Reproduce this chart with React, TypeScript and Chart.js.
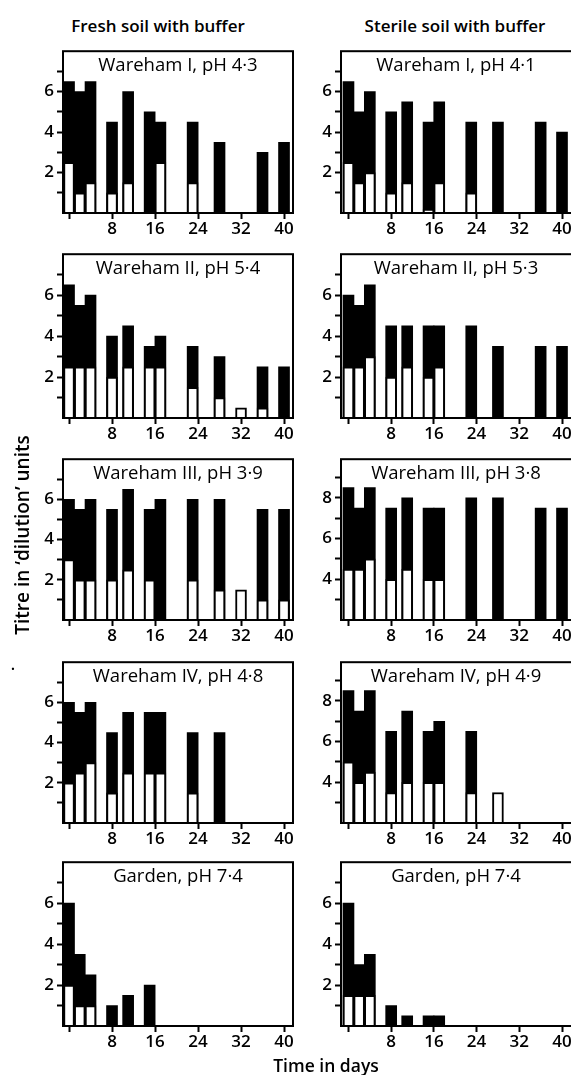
import React, { useEffect, useRef } from 'react';
import { Chart, registerables } from 'chart.js';

Chart.register(...registerables);

// ---------- data ----------
const days = [0, 2, 4, 8, 11, 15, 17, 23, 28, 32, 36, 40];
const xTickValues = [0, 8, 16, 24, 32, 40];

const columnTitles = ['Fresh soil with buffer', 'Sterile soil with buffer'];
const yAxisTitle = 'Titre in ‘dilution’ units';
const xAxisTitle = 'Time in days';

const panelTitles = [
  ['Wareham I, pH 4·3', 'Wareham I, pH 4·1'],
  ['Wareham II, pH 5·4', 'Wareham II, pH 5·3'],
  ['Wareham III, pH 3·9', 'Wareham III, pH 3·8'],
  ['Wareham IV, pH 4·8', 'Wareham IV, pH 4·9'],
  ['Garden, pH 7·4', 'Garden, pH 7·4'],
];

// total titre (black bars) and the white part, per panel
const freshWarehamITotal = [6.5, 6, 6.5, 4.5, 6, 5, 4.5, 4.5, 3.5, null, 3, 3.5];
const freshWarehamIWhite = [2.5, 1, 1.5, 1, 1.5, null, 2.5, 1.5, null, null, null, null];
const sterileWarehamITotal = [6.5, 5, 6, 5, 5.5, 4.5, 5.5, 4.5, 4.5, null, 4.5, 4];
const sterileWarehamIWhite = [2.5, 1.5, 2, 1, 1.5, 0.2, 1.5, 1, null, null, null, null];

const freshWarehamIITotal = [6.5, 5.5, 6, 4, 4.5, 3.5, 4, 3.5, 3, null, 2.5, 2.5];
const freshWarehamIIWhite = [2.5, 2.5, 2.5, 2, 2.5, 2.5, 2.5, 1.5, 1, 0.5, 0.5, null];
const sterileWarehamIITotal = [6, 5.5, 6.5, 4.5, 4.5, 4.5, 4.5, 4.5, 3.5, null, 3.5, 3.5];
const sterileWarehamIIWhite = [2.5, 2.5, 3, 2, 2.5, 2, 2.5, null, null, null, null, null];

const freshWarehamIIITotal = [6, 5.5, 6, 5.5, 6.5, 5.5, 6, 6, 6, null, 5.5, 5.5];
const freshWarehamIIIWhite = [3, 2, 2, 2, 2.5, 2, null, 2, 1.5, 1.5, 1, 1];
const sterileWarehamIIITotal = [8.5, 7.5, 8.5, 7.5, 8, 7.5, 7.5, 8, 8, null, 7.5, 7.5];
const sterileWarehamIIIWhite = [4.5, 4.5, 5, 4, 4.5, 4, 4, null, null, null, null, null];

const freshWarehamIVTotal = [6, 5.5, 6, 4.5, 5.5, 5.5, 5.5, 4.5, 4.5, null, null, null];
const freshWarehamIVWhite = [2, 2.5, 3, 1.5, 2.5, 2.5, 2.5, 1.5, null, null, null, null];
const sterileWarehamIVTotal = [8.5, 7.5, 8.5, 6.5, 7.5, 6.5, 7, 6.5, null, null, null, null];
const sterileWarehamIVWhite = [5, 4, 4.5, 3.5, 4, 4, 4, 3.5, 3.5, null, null, null];

const freshGardenTotal = [6, 3.5, 2.5, 1, 1.5, 2, null, null, null, null, null, null];
const freshGardenWhite = [2, 1, 1, null, null, null, null, null, null, null, null, null];
const sterileGardenTotal = [6, 3, 3.5, 1, 0.5, 0.5, 0.5, null, null, null, null, null];
const sterileGardenWhite = [1.5, 1.5, 1.5, null, null, null, null, null, null, null, null, null];

const yRangeLow = [0, 8];
const yRangeHigh = [2, 9.9];

const panelSeries = [
  [[freshWarehamITotal, freshWarehamIWhite, yRangeLow], [sterileWarehamITotal, sterileWarehamIWhite, yRangeLow]],
  [[freshWarehamIITotal, freshWarehamIIWhite, yRangeLow], [sterileWarehamIITotal, sterileWarehamIIWhite, yRangeLow]],
  [[freshWarehamIIITotal, freshWarehamIIIWhite, yRangeLow], [sterileWarehamIIITotal, sterileWarehamIIIWhite, yRangeHigh]],
  [[freshWarehamIVTotal, freshWarehamIVWhite, yRangeLow], [sterileWarehamIVTotal, sterileWarehamIVWhite, yRangeHigh]],
  [[freshGardenTotal, freshGardenWhite, yRangeLow], [sterileGardenTotal, sterileGardenWhite, yRangeLow]],
];

// ---------- layout ----------
const FONT = "'Open Sans', sans-serif";
const boxLefts = [63, 341];
const boxWidths = [230, 232];
const xRanges = [[-1.12, 41.67], [-1.4, 42.06]];
const rowTops = [44, 247, 452, 655, 855];
const rowHeights = [169, 171, 168, 168, 171];
const YW = 40;
const XH = 30;
const PT = 6;
const PR = 8;

const boxPlugin = {
  id: 'panelBox',
  afterDraw(chart: any) {
    const { ctx, chartArea: a } = chart;
    ctx.save();
    ctx.strokeStyle = '#000';
    ctx.lineWidth = 2;
    ctx.strokeRect(a.left, a.top, a.right - a.left, a.bottom - a.top);
    ctx.restore();
  },
};

function Panel({ total, white, yRange, xRange, left, top, width, height }: any) {
  const ref = useRef<HTMLCanvasElement>(null);
  const cw = YW + width + PR;
  const ch = PT + height + XH;
  useEffect(() => {
    const [yMin, yMax] = yRange;
    const yTicks: number[] = [];
    for (let v = Math.ceil(yMin + 0.01); v < yMax - 0.01; v++) yTicks.push(v);
    const chart = new Chart(ref.current as HTMLCanvasElement, {
      type: 'bar',
      data: {
        datasets: [
          {
            label: 'white',
            data: days.map((d, i) => ({ x: d, y: white[i] })),
            backgroundColor: '#fff',
            borderColor: '#000',
            borderWidth: 2,
            borderSkipped: 'bottom',
            grouped: false,
            barThickness: 11,
            order: 0,
          } as any,
          {
            label: 'total',
            data: days.map((d, i) => ({ x: d, y: total[i] })),
            backgroundColor: '#000',
            borderWidth: 0,
            grouped: false,
            barThickness: 11,
            order: 1,
          } as any,
        ],
      },
      options: {
        responsive: false,
        animation: false,
        events: [],
        layout: { padding: { left: 0, top: PT, right: PR, bottom: 0 } },
        plugins: { legend: { display: false }, tooltip: { enabled: false } },
        scales: {
          x: {
            type: 'linear',
            min: xRange[0],
            max: xRange[1],
            offset: false,
            afterBuildTicks: (axis: any) => {
              axis.ticks = xTickValues.map((v) => ({ value: v }));
            },
            afterFit: (axis: any) => {
              axis.height = XH;
            },
            grid: {
              drawOnChartArea: false,
              offset: false,
              tickLength: 6,
              tickWidth: 2,
              tickColor: '#000',
              color: '#000',
            },
            border: { display: false },
            ticks: {
              autoSkip: false,
              maxRotation: 0,
              color: '#000',
              padding: 0,
              font: { family: FONT, size: 17, weight: '600' },
              callback: (v: any) => (v === 0 ? '' : String(v)),
            },
          },
          y: {
            type: 'linear',
            min: yMin,
            max: yMax,
            afterBuildTicks: (axis: any) => {
              axis.ticks = yTicks.map((v) => ({ value: v }));
            },
            afterFit: (axis: any) => {
              axis.width = YW;
            },
            grid: {
              drawOnChartArea: false,
              tickLength: 6,
              tickWidth: 2,
              tickColor: '#000',
              color: '#000',
            },
            border: { display: false },
            ticks: {
              autoSkip: false,
              color: '#000',
              padding: 3,
              font: { family: FONT, size: 17, weight: '600' },
              callback: (v: any) => (v % 2 === 0 ? String(v) : ''),
            },
          },
        },
      } as any,
      plugins: [boxPlugin],
    });
    return () => chart.destroy();
  }, []);
  return (
    <canvas
      ref={ref}
      width={cw}
      height={ch}
      style={{ position: 'absolute', left: left - YW, top: top - PT, width: cw, height: ch }}
    />
  );
}

function Label({ text, x, y, size, weight = 600, rotate = 0 }: any) {
  return (
    <div
      style={{
        position: 'absolute',
        left: x,
        top: y,
        transform: `translate(-50%, -50%) rotate(${rotate}deg)`,
        fontFamily: FONT,
        fontSize: size,
        fontWeight: weight,
        whiteSpace: 'nowrap',
        color: '#000',
        lineHeight: 1,
      }}
    >
      {text}
    </div>
  );
}

export default function App() {
  return (
    <div style={{ position: 'absolute', left: 0, top: 0, width: 571, height: 1075, background: '#fff', overflow: 'hidden' }}>
      <Label text={columnTitles[0]} x={158} y={25} size={17} />
      <Label text={columnTitles[1]} x={455} y={25} size={17} />
      {panelSeries.map((row, r) =>
        row.map((s, c) => (
          <React.Fragment key={`${r}-${c}`}>
            <Panel
              total={s[0]}
              white={s[1]}
              yRange={s[2]}
              xRange={xRanges[c]}
              left={boxLefts[c]}
              top={rowTops[r]}
              width={boxWidths[c]}
              height={rowHeights[r]}
            />
            <Label
              text={panelTitles[r][c]}
              x={boxLefts[c] + (c === 0 ? 115 : 115)}
              y={rowTops[r] + 20}
              size={18.5}
              weight={500}
            />
          </React.Fragment>
        ))
      )}
      <Label text={yAxisTitle} x={22} y={535} size={19} rotate={-90} />
      <Label text="•" x={13} y={668} size={9} />
      <Label text={xAxisTitle} x={326} y={1066} size={17.5} />
    </div>
  );
}
